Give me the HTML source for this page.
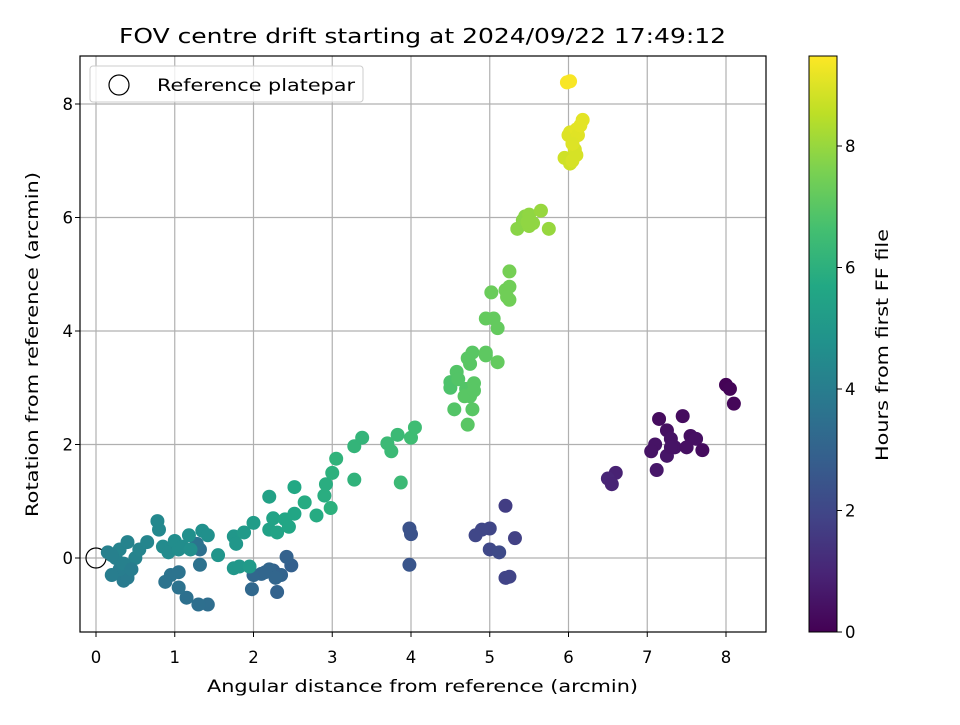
<!DOCTYPE html>
<html><head><meta charset="utf-8"><style>
body{margin:0;background:#fff;}
svg text{font-family:"DejaVu Sans","Liberation Sans",sans-serif;fill:#000;}
</style></head><body>
<svg id="chart" width="960" height="720" xmlns="http://www.w3.org/2000/svg">
<defs>
<linearGradient id="vir" x1="0" y1="1" x2="0" y2="0">
<stop offset="0" stop-color="#440154"/><stop offset="0.1" stop-color="#482475"/><stop offset="0.2" stop-color="#414487"/><stop offset="0.3" stop-color="#355f8d"/><stop offset="0.4" stop-color="#2a788e"/><stop offset="0.5" stop-color="#21918c"/><stop offset="0.6" stop-color="#22a884"/><stop offset="0.7" stop-color="#44bf70"/><stop offset="0.8" stop-color="#7ad151"/><stop offset="0.9" stop-color="#bddf26"/><stop offset="1" stop-color="#fde725"/>
</linearGradient>
<clipPath id="clip"><rect x="80" y="56" width="686" height="576"/></clipPath>
</defs>
<text x="119" y="43" font-size="20" textLength="607" lengthAdjust="spacingAndGlyphs">FOV centre drift starting at 2024/09/22 17:49:12</text>
<g id="grid"></g>
<g id="points" clip-path="url(#clip)"></g>
<rect x="80" y="56" width="686" height="576" fill="none" stroke="#000" stroke-width="1.2"/>
<g id="ticks"></g>
<text x="207" y="692" font-size="17" textLength="431" lengthAdjust="spacingAndGlyphs">Angular distance from reference (arcmin)</text>
<text transform="translate(38,517) rotate(-90)" font-size="17" textLength="345" lengthAdjust="spacingAndGlyphs">Rotation from reference (arcmin)</text>
<g>
<rect x="90" y="66" width="273" height="36" rx="3" fill="#fff" fill-opacity="0.8" stroke="#ccc"/>
<circle cx="119" cy="85" r="10" fill="none" stroke="#000" stroke-width="1.2"/>
<text x="157" y="91" font-size="17" textLength="198" lengthAdjust="spacingAndGlyphs">Reference platepar</text>
</g>
<rect x="809" y="56" width="28" height="576" fill="url(#vir)" stroke="#000" stroke-width="1"/>
<g id="cbticks"></g>
<text transform="translate(888,461) rotate(-90)" font-size="17" textLength="232" lengthAdjust="spacingAndGlyphs">Hours from first FF file</text>
</svg>
<script>
const xTicks=[0,1,2,3,4,5,6,7,8];
const yTicks=[0,2,4,6,8];
const cTicks=[0,2,4,6,8];
const cMax=9.48;
const ptX=[8.0,8.05,8.1,7.45,7.15,7.25,7.1,7.05,7.3,7.35,7.55,7.62,7.7,7.5,7.25,7.12,7.3,6.6,6.5,6.55,
5.32,5.2,5.25,5.2,5.0,4.9,4.82,5.0,5.12,3.98,4.0,3.98,
2.48,2.42,2.3,2.25,2.35,2.2,2.1,2.0,1.98,2.28,2.15,
1.42,1.3,1.15,1.05,0.95,0.88,1.05,1.32,1.32,1.28,
0.35,0.4,0.3,0.2,0.25,0.15,0.3,0.4,0.5,0.55,0.65,0.35,0.45,0.2,
0.78,0.8,0.85,0.92,1.0,1.05,1.1,1.18,1.35,1.42,1.2,1.55,
1.75,1.78,1.75,1.82,1.88,2.0,1.95,
2.2,2.2,2.25,2.3,2.4,2.45,2.52,2.52,2.65,2.8,2.9,2.92,3.0,2.98,3.05,3.28,3.28,3.38,
3.7,3.75,3.83,3.87,4.0,4.05,
4.5,4.5,4.58,4.6,4.55,4.7,4.72,4.75,4.78,4.8,4.75,4.78,4.72,4.68,4.8,4.95,4.95,4.95,5.05,5.1,5.1,5.02,5.2,5.25,5.25,5.22,5.25,
5.35,5.42,5.45,5.5,5.5,5.55,5.65,5.75,5.48,
5.95,6.02,6.05,6.1,6.08,6.0,6.02,6.1,6.12,6.18,6.15,5.98,6.02,6.05];
const ptY=[3.05,2.98,2.72,2.5,2.45,2.25,2.0,1.88,2.1,1.95,2.15,2.1,1.9,1.95,1.8,1.55,1.95,1.5,1.4,1.3,
0.35,0.92,-0.33,-0.35,0.52,0.5,0.4,0.15,0.1,0.52,0.42,-0.12,
-0.13,0.02,-0.6,-0.22,-0.3,-0.2,-0.28,-0.3,-0.55,-0.35,-0.25,
-0.82,-0.82,-0.7,-0.52,-0.3,-0.42,-0.25,-0.12,0.15,0.25,
-0.4,-0.35,-0.2,-0.3,0.0,0.1,0.15,0.28,0.0,0.15,0.28,-0.1,-0.2,0.05,
0.65,0.5,0.2,0.1,0.3,0.15,0.2,0.4,0.48,0.4,0.15,0.05,
0.38,0.25,-0.18,-0.15,0.45,0.62,-0.15,
1.08,0.5,0.7,0.45,0.68,0.55,0.78,1.25,0.98,0.75,1.1,1.3,1.5,0.88,1.75,1.38,1.97,2.12,
2.02,1.88,2.17,1.33,2.12,2.3,
3.1,3.0,3.28,3.15,2.62,2.98,3.52,3.42,3.62,3.08,2.85,2.62,2.35,2.85,2.95,3.62,3.57,4.22,4.22,4.05,3.45,4.68,4.72,4.78,4.55,4.6,5.05,
5.8,5.95,6.02,5.85,6.05,5.9,6.12,5.8,5.92,
7.05,6.95,7.0,7.1,7.2,7.45,7.5,7.55,7.45,7.72,7.62,8.38,8.4,7.3];
const ptH=[0.05,0.1,0.15,0.3,0.3,0.4,0.5,0.5,0.45,0.5,0.35,0.4,0.3,0.4,0.55,0.6,0.5,0.9,1.0,0.95,
1.8,1.7,1.9,1.9,1.95,2.0,2.0,2.05,2.1,2.4,2.4,2.5,
2.9,2.95,3.0,3.0,3.05,3.1,3.1,3.15,3.2,3.1,3.1,
3.4,3.45,3.5,3.55,3.6,3.6,3.6,3.55,3.5,3.6,
3.9,3.9,4.0,4.0,4.1,4.1,4.2,4.2,4.2,4.25,4.3,4.1,4.0,4.1,
4.4,4.4,4.5,4.5,4.6,4.6,4.6,4.7,4.7,4.7,4.65,4.9,
5.0,5.0,5.0,5.0,5.1,5.2,5.1,
5.4,5.4,5.5,5.5,5.6,5.6,5.6,5.7,5.8,5.8,5.9,5.9,6.0,6.0,6.1,6.1,6.2,6.2,
6.4,6.4,6.4,6.4,6.5,6.5,
6.8,6.8,6.9,6.9,6.9,6.9,7.0,7.0,7.0,7.0,7.0,7.0,7.0,7.0,7.0,7.1,7.1,7.2,7.2,7.2,7.2,7.3,7.4,7.4,7.4,7.4,7.5,
7.8,7.8,7.8,7.9,7.9,7.9,8.0,8.0,7.9,
8.8,8.8,8.9,8.9,8.9,9.0,9.0,9.1,9.05,9.1,9.1,9.4,9.4,9.0];

const NS='http://www.w3.org/2000/svg';
const sx=v=>96+v*78.75;
const sy=v=>558-v*56.75;
const sc=v=>632-v*60.75;
const VIR=[[68,1,84],[72,36,117],[65,68,135],[53,95,141],[42,120,142],[33,145,140],[34,168,132],[68,191,112],[122,209,81],[189,223,38],[253,231,37]];
function vir(h){let t=Math.max(0,Math.min(1,h/cMax))*10;let i=Math.min(9,Math.floor(t));let f=t-i;const a=VIR[i],b=VIR[i+1];
return 'rgb('+a.map((c,k)=>Math.round(c+(b[k]-c)*f)).join(',')+')';}
function mk(tag,attrs,parent,txt){const e=document.createElementNS(NS,tag);for(const k in attrs)e.setAttribute(k,attrs[k]);if(txt!==undefined)e.textContent=txt;parent.appendChild(e);return e;}
const grid=document.getElementById('grid'),ticks=document.getElementById('ticks'),pts=document.getElementById('points'),cb=document.getElementById('cbticks');
xTicks.forEach(v=>{
 const g=mk('line',{x1:sx(v),x2:sx(v),y1:56,y2:632,stroke:'#b0b0b0','stroke-width':1.2},grid);
 
 
 const t=mk('line',{x1:sx(v),x2:sx(v),y1:632,y2:637,stroke:'#000'},ticks);
 
 
 const l=mk('text',{x:sx(v),y:663,'font-size':16.5,'text-anchor':'middle'},ticks,String(v));
 
 
});
yTicks.forEach(v=>{
 const g=mk('line',{x1:80,x2:766,y1:sy(v),y2:sy(v),stroke:'#b0b0b0','stroke-width':1.2},grid);
 
 
 const t=mk('line',{x1:75,x2:80,y1:sy(v),y2:sy(v),stroke:'#000'},ticks);
 
 
 const l=mk('text',{x:73,y:sy(v)+6,'font-size':16.5,'text-anchor':'end'},ticks,String(v));
 
 
});
cTicks.forEach(v=>{
 const t=mk('line',{x1:837,x2:842,y1:sc(v),y2:sc(v),stroke:'#000'},cb);
 
 
 const l=mk('text',{x:845,y:sc(v)+6,'font-size':16.5},cb,String(v));
 
 
});
const ref=mk('circle',{cx:sx(0),cy:sy(0),r:10,fill:'none',stroke:'#000','stroke-width':1.2},pts);


ptX.forEach((x,i)=>{
 const c=mk('circle',{cx:sx(x),cy:sy(ptY[i]),r:7,fill:vir(ptH[i])},pts);
 
 
});
</script>
</body></html>
